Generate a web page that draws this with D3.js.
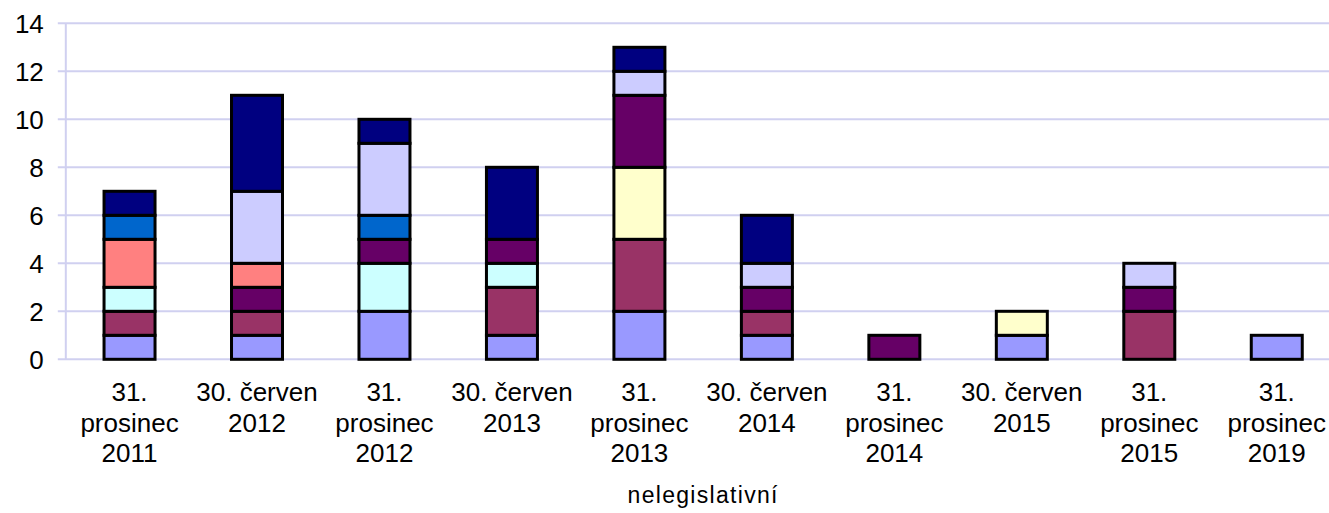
<!DOCTYPE html>
<html>
<head>
<meta charset="utf-8">
<script src="https://cdn.jsdelivr.net/npm/d3@7"></script>
<style>
  html, body { margin: 0; padding: 0; background: #fff; }
  svg { display: block; }
  text { font-family: "Liberation Sans", Arial, sans-serif; fill: #000; }
</style>
</head>
<body>
<svg id="chart" width="1329" height="513"></svg>
<script>
// ---- data ----
const categories = [
  ["31.", "prosinec", "2011"],
  ["30. červen", "2012"],
  ["31.", "prosinec", "2012"],
  ["30. červen", "2013"],
  ["31.", "prosinec", "2013"],
  ["30. červen", "2014"],
  ["31.", "prosinec", "2014"],
  ["30. červen", "2015"],
  ["31.", "prosinec", "2015"],
  ["31.", "prosinec", "2019"]
];
const seriesNames = ["řada 1", "řada 2", "řada 3", "řada 4", "řada 5", "řada 6", "řada 7", "řada 8", "řada 9"];
const seriesColors = ["#9999FF", "#993366", "#FFFFCC", "#CCFFFF", "#660066", "#FF8080", "#0066CC", "#CCCCFF", "#000080"];
const s1 = [1, 1, 2, 1, 2, 1, 0, 1, 0, 1];
const s2 = [1, 1, 0, 2, 3, 1, 0, 0, 2, 0];
const s3 = [0, 0, 0, 0, 3, 0, 0, 1, 0, 0];
const s4 = [1, 0, 2, 1, 0, 0, 0, 0, 0, 0];
const s5 = [0, 1, 1, 1, 3, 1, 1, 0, 1, 0];
const s6 = [2, 1, 0, 0, 0, 0, 0, 0, 0, 0];
const s7 = [1, 0, 1, 0, 0, 0, 0, 0, 0, 0];
const s8 = [0, 3, 3, 0, 1, 1, 0, 0, 1, 0];
const s9 = [1, 4, 1, 3, 1, 2, 0, 0, 0, 0];
const yTicks = [0, 2, 4, 6, 8, 10, 12, 14];
const axisTitle = "nelegislativní";

// ---- layout ----
const svg = d3.select("#chart");
const W = 1329, H = 513;
const plotLeft = 65.8, plotRight = 1340.5, plotTop = 23.3, plotBottom = 359.3;

const keys = categories.map(c => c.join(" "));
const seriesVals = [s1, s2, s3, s4, s5, s6, s7, s8, s9];
const rows = keys.map((k, i) => {
  const r = { key: k };
  seriesNames.forEach((n, j) => r[n] = seriesVals[j][i]);
  return r;
});
const stacked = d3.stack().keys(seriesNames)(rows);

const x = d3.scaleBand().domain(keys).range([plotLeft, plotRight]).paddingInner(0.6).paddingOuter(0.3);
const y = d3.scaleLinear().domain([0, 14]).range([plotBottom, plotTop]);

const gridColor = "#D0D0F0";

// gridlines
svg.append("g").selectAll("line").data(yTicks).join("line")
  .attr("x1", plotLeft - 8).attr("x2", W)
  .attr("y1", d => y(d)).attr("y2", d => y(d))
  .attr("stroke", gridColor).attr("stroke-width", 2);

// y axis line
svg.append("line")
  .attr("x1", plotLeft).attr("x2", plotLeft)
  .attr("y1", y(14)).attr("y2", y(0))
  .attr("stroke", gridColor).attr("stroke-width", 2);

// y axis labels
const yAxis = d3.axisLeft(y).tickValues(yTicks).tickSize(0).tickPadding(22);
const yg = svg.append("g").attr("transform", `translate(${plotLeft},0)`).call(yAxis);
yg.select(".domain").remove();
yg.selectAll("text").style("font-size", "26px").attr("font-family", "Liberation Sans, Arial, sans-serif").attr("dy", "0.36em");

// bars
const layer = svg.append("g").selectAll("g").data(stacked).join("g")
  .attr("fill", (d, i) => seriesColors[i]);
layer.selectAll("rect").data(d => d.filter(p => p[1] - p[0] > 0)).join("rect")
  .attr("x", d => x(d.data.key))
  .attr("width", x.bandwidth())
  .attr("y", d => y(d[1]))
  .attr("height", d => y(d[0]) - y(d[1]))
  .attr("stroke", "#000").attr("stroke-width", 3);

// category labels
const cl = svg.append("g").selectAll("text").data(categories).join("text")
  .attr("text-anchor", "middle")
  .style("font-size", "26px")
  .attr("x", (d, i) => x(keys[i]) + x.bandwidth() / 2)
  .attr("y", 401);
cl.selectAll("tspan").data(d => d).join("tspan")
  .attr("x", function() { return d3.select(this.parentNode).attr("x"); })
  .attr("y", (d, i) => 401 + i * 30.5)
  .text(d => d);

// axis title
svg.append("text")
  .attr("x", (plotLeft + plotRight) / 2)
  .attr("y", 503)
  .attr("text-anchor", "middle")
  .style("font-size", "23px")
  .style("letter-spacing", "1.3px")
  .text(axisTitle);
</script>
</body>
</html>
